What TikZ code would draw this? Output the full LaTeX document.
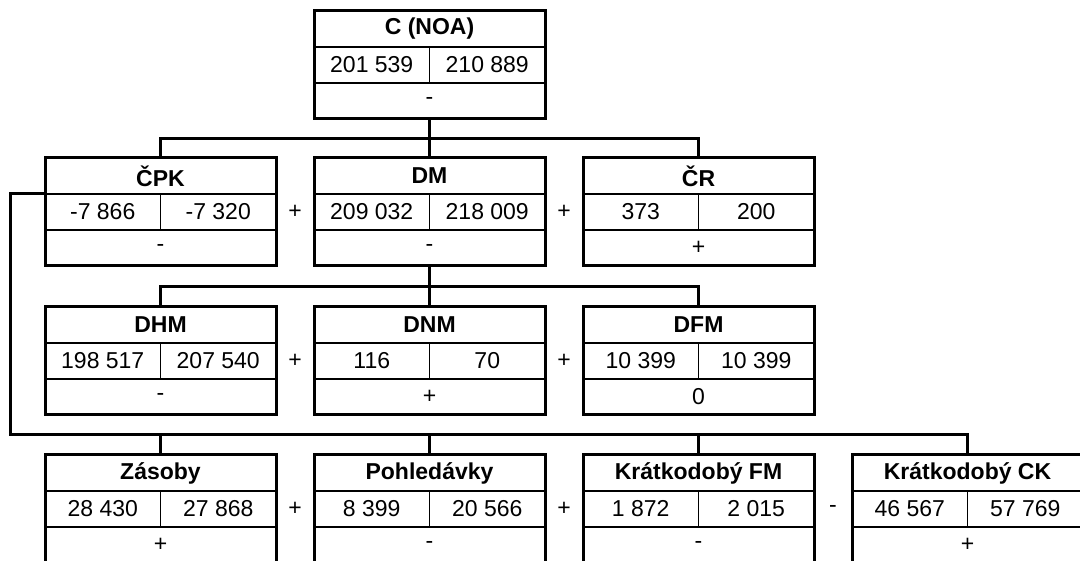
\documentclass[tikz,border=0pt]{standalone}
\usepackage{fontspec}
\setmainfont{Liberation Sans}
\begin{document}
\begin{tikzpicture}[x=1pt,y=-1pt,
  cell/.style={draw, line width=1.8pt, inner sep=0pt, outer sep=0pt,
    minimum height=36pt, font=\fontsize{23}{26}\selectfont},
  head/.style={cell, minimum width=231pt, font=\bfseries\fontsize{23}{26}\selectfont},
  half/.style={cell, minimum width=115.5pt},
  full/.style={cell, minimum width=231pt},
  frame/.style={draw, line width=3pt},
  link/.style={draw, line width=3pt},
  sign/.style={font=\fontsize{23}{26}\selectfont, inner sep=0pt}]

% one indicator block: name, centre x, top y, title, two values, trend sign
\newcommand\finbox[7]{%
  \node[head] (#1-h) at (#2,#3+18) {#4};
  \node[half] (#1-a) at (#2-57.75,#3+54) {#5};
  \node[half] (#1-b) at (#2+57.75,#3+54) {#6};
  \node[full] (#1-s) at (#2,#3+90) {#7};
  \draw[frame] (#1-h.north west) rectangle (#1-s.south east);
}

\useasboundingbox (0,0) rectangle (1080,561);
\clip (0,0) rectangle (1080,561);

% level 1
\finbox{C}{429.5}{11}{C (NOA)}{201 539}{210 889}{-}
% level 2
\finbox{CPK}{160.5}{158}{ČPK}{-7 866}{-7 320}{-}
\finbox{DM}{429.5}{158}{DM}{209 032}{218 009}{-}
\finbox{CR}{698.5}{158}{ČR}{373}{200}{+}
\node[sign] (s21) at (295,212) {+};
\node[sign] (s22) at (564,212) {+};
% level 3
\finbox{DHM}{160.5}{307}{DHM}{198 517}{207 540}{-}
\finbox{DNM}{429.5}{307}{DNM}{116}{70}{+}
\finbox{DFM}{698.5}{307}{DFM}{10 399}{10 399}{0}
\node[sign] (s31) at (295,361) {+};
\node[sign] (s32) at (564,361) {+};
% level 4
\finbox{ZAS}{160.5}{455}{Zásoby}{28 430}{27 868}{+}
\finbox{POH}{429.5}{455}{Pohledávky}{8 399}{20 566}{-}
\finbox{KFM}{698.5}{455}{Krátkodobý FM}{1 872}{2 015}{-}
\finbox{KCK}{967.5}{455}{Krátkodobý CK}{46 567}{57 769}{+}
\node[sign] (s41) at (295,509) {+};
\node[sign] (s42) at (564,509) {+};
\node[sign] (s43) at (833,509) {-};

% connectors
\coordinate (j1) at (429.5,139);
\draw[link] (C-s.south) -- (DM-h.north);
\draw[link] (CPK-h.north) |- (j1) -| (CR-h.north);

\coordinate (j2) at (429.5,287);
\draw[link] (DM-s.south) -- (DNM-h.north);
\draw[link] (DHM-h.north) |- (j2) -| (DFM-h.north);

\coordinate (lp) at (10,435);
\draw[link] (CPK-a.north west) -| (lp) -| (KCK-h.north);
\draw[link] (ZAS-h.north) -- (ZAS-h.north |- lp);
\draw[link] (POH-h.north) -- (POH-h.north |- lp);
\draw[link] (KFM-h.north) -- (KFM-h.north |- lp);
\end{tikzpicture}
\end{document}
